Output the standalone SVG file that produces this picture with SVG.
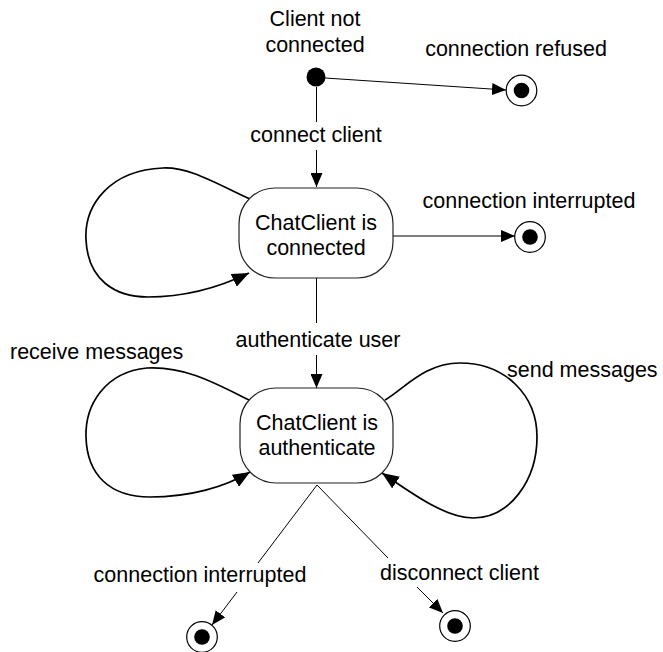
<svg xmlns="http://www.w3.org/2000/svg" width="663" height="652" viewBox="0 0 663 652">
<defs>
<marker id="arr" viewBox="0 0 14 12" refX="14" refY="6" markerWidth="14" markerHeight="12" markerUnits="userSpaceOnUse" orient="auto">
<path d="M0,0 L14,6 L0,12 z" fill="#000"/>
</marker>
<marker id="arrL" viewBox="0 0 17 14" refX="17" refY="7" markerWidth="17" markerHeight="14" markerUnits="userSpaceOnUse" orient="auto">
<path d="M0,0 L17,7 L0,14 z" fill="#000"/>
</marker>
</defs>
<style>
text{font-family:"Liberation Sans",Arial,sans-serif;font-size:21.5px;fill:#000}
.c{text-anchor:middle}
.ln{fill:none;stroke:#000;stroke-width:1}
.lp{fill:none;stroke:#000;stroke-width:1.7}
.st{fill:#fff;stroke:#222;stroke-width:1.2}
.fo{fill:#fff;stroke:#000;stroke-width:1.2}
</style>
<rect width="663" height="652" fill="#fff"/>
<g id="connectors">
<path class="ln" d="M325,78 L506,90" marker-end="url(#arr)"/>
<path class="ln" d="M316.5,87 L316.5,122"/>
<path class="ln" d="M316.5,150 L316.5,187" marker-end="url(#arr)"/>
<path class="lp" d="M250,199 C215,183 190,167 163,168 C110,170 84,205 86,240 C88,280 115,297 148,297 C185,297 220,287 249,273" marker-end="url(#arrL)"/>
<path class="ln" d="M393,236 L515,236" marker-end="url(#arr)"/>
<path class="ln" d="M316.5,278 L316.5,323"/>
<path class="ln" d="M316.5,355 L316.5,388" marker-end="url(#arr)"/>
<path class="lp" d="M249,400 C215,383 185,366 147,368 C105,372 85,405 86,437 C87,475 110,497 150,497 C190,497 225,487 250,472" marker-end="url(#arrL)"/>
<path class="lp" d="M385,400 C405,388 425,363 460,363 C505,363 537,395 537,437 C537,480 510,518 473,518 C445,518 410,492 382,473" marker-end="url(#arrL)"/>
<path class="ln" d="M317,485 L258,563"/>
<path class="ln" d="M237,592 L212,625" marker-end="url(#arr)"/>
<path class="ln" d="M317,485 L388,558"/>
<path class="ln" d="M417,587 L443,613" marker-end="url(#arr)"/>
<text x="316" y="142" class="c">connect client</text>
<text x="516" y="56" class="c">connection refused</text>
<text x="529" y="208" class="c">connection interrupted</text>
<text x="318" y="347" class="c">authenticate user</text>
<text x="10" y="359">receive messages</text>
<text x="507" y="377">send messages</text>
<text x="200" y="582" class="c">connection interrupted</text>
<text x="380" y="580">disconnect client</text>
</g>
<g id="start">
<text x="315" y="26" class="c">Client not</text>
<text x="315" y="52" class="c">connected</text>
<circle cx="316" cy="77" r="9.5" fill="#000"/>
</g>
<g id="connected">
<rect class="st" x="239" y="188" width="154" height="90" rx="36" ry="36"/>
<text x="316" y="230" class="c">ChatClient is</text>
<text x="316" y="255" class="c">connected</text>
</g>
<g id="authenticate">
<rect class="st" x="240" y="388" width="153" height="95" rx="36" ry="36"/>
<text x="317" y="430" class="c">ChatClient is</text>
<text x="317" y="455" class="c">authenticate</text>
</g>
<g id="final-refused">
<circle class="fo" cx="521.5" cy="90.5" r="15.3"/>
<circle cx="521.5" cy="90.5" r="7.8" fill="#000"/>
</g>
<g id="final-interrupted-1">
<circle class="fo" cx="530" cy="237" r="15.3"/>
<circle cx="530" cy="237" r="7.8" fill="#000"/>
</g>
<g id="final-interrupted-2">
<circle class="fo" cx="202" cy="637" r="15.3"/>
<circle cx="202" cy="637" r="7.8" fill="#000"/>
</g>
<g id="final-disconnect">
<circle class="fo" cx="455" cy="626" r="15.3"/>
<circle cx="455" cy="626" r="7.8" fill="#000"/>
</g>
</svg>
